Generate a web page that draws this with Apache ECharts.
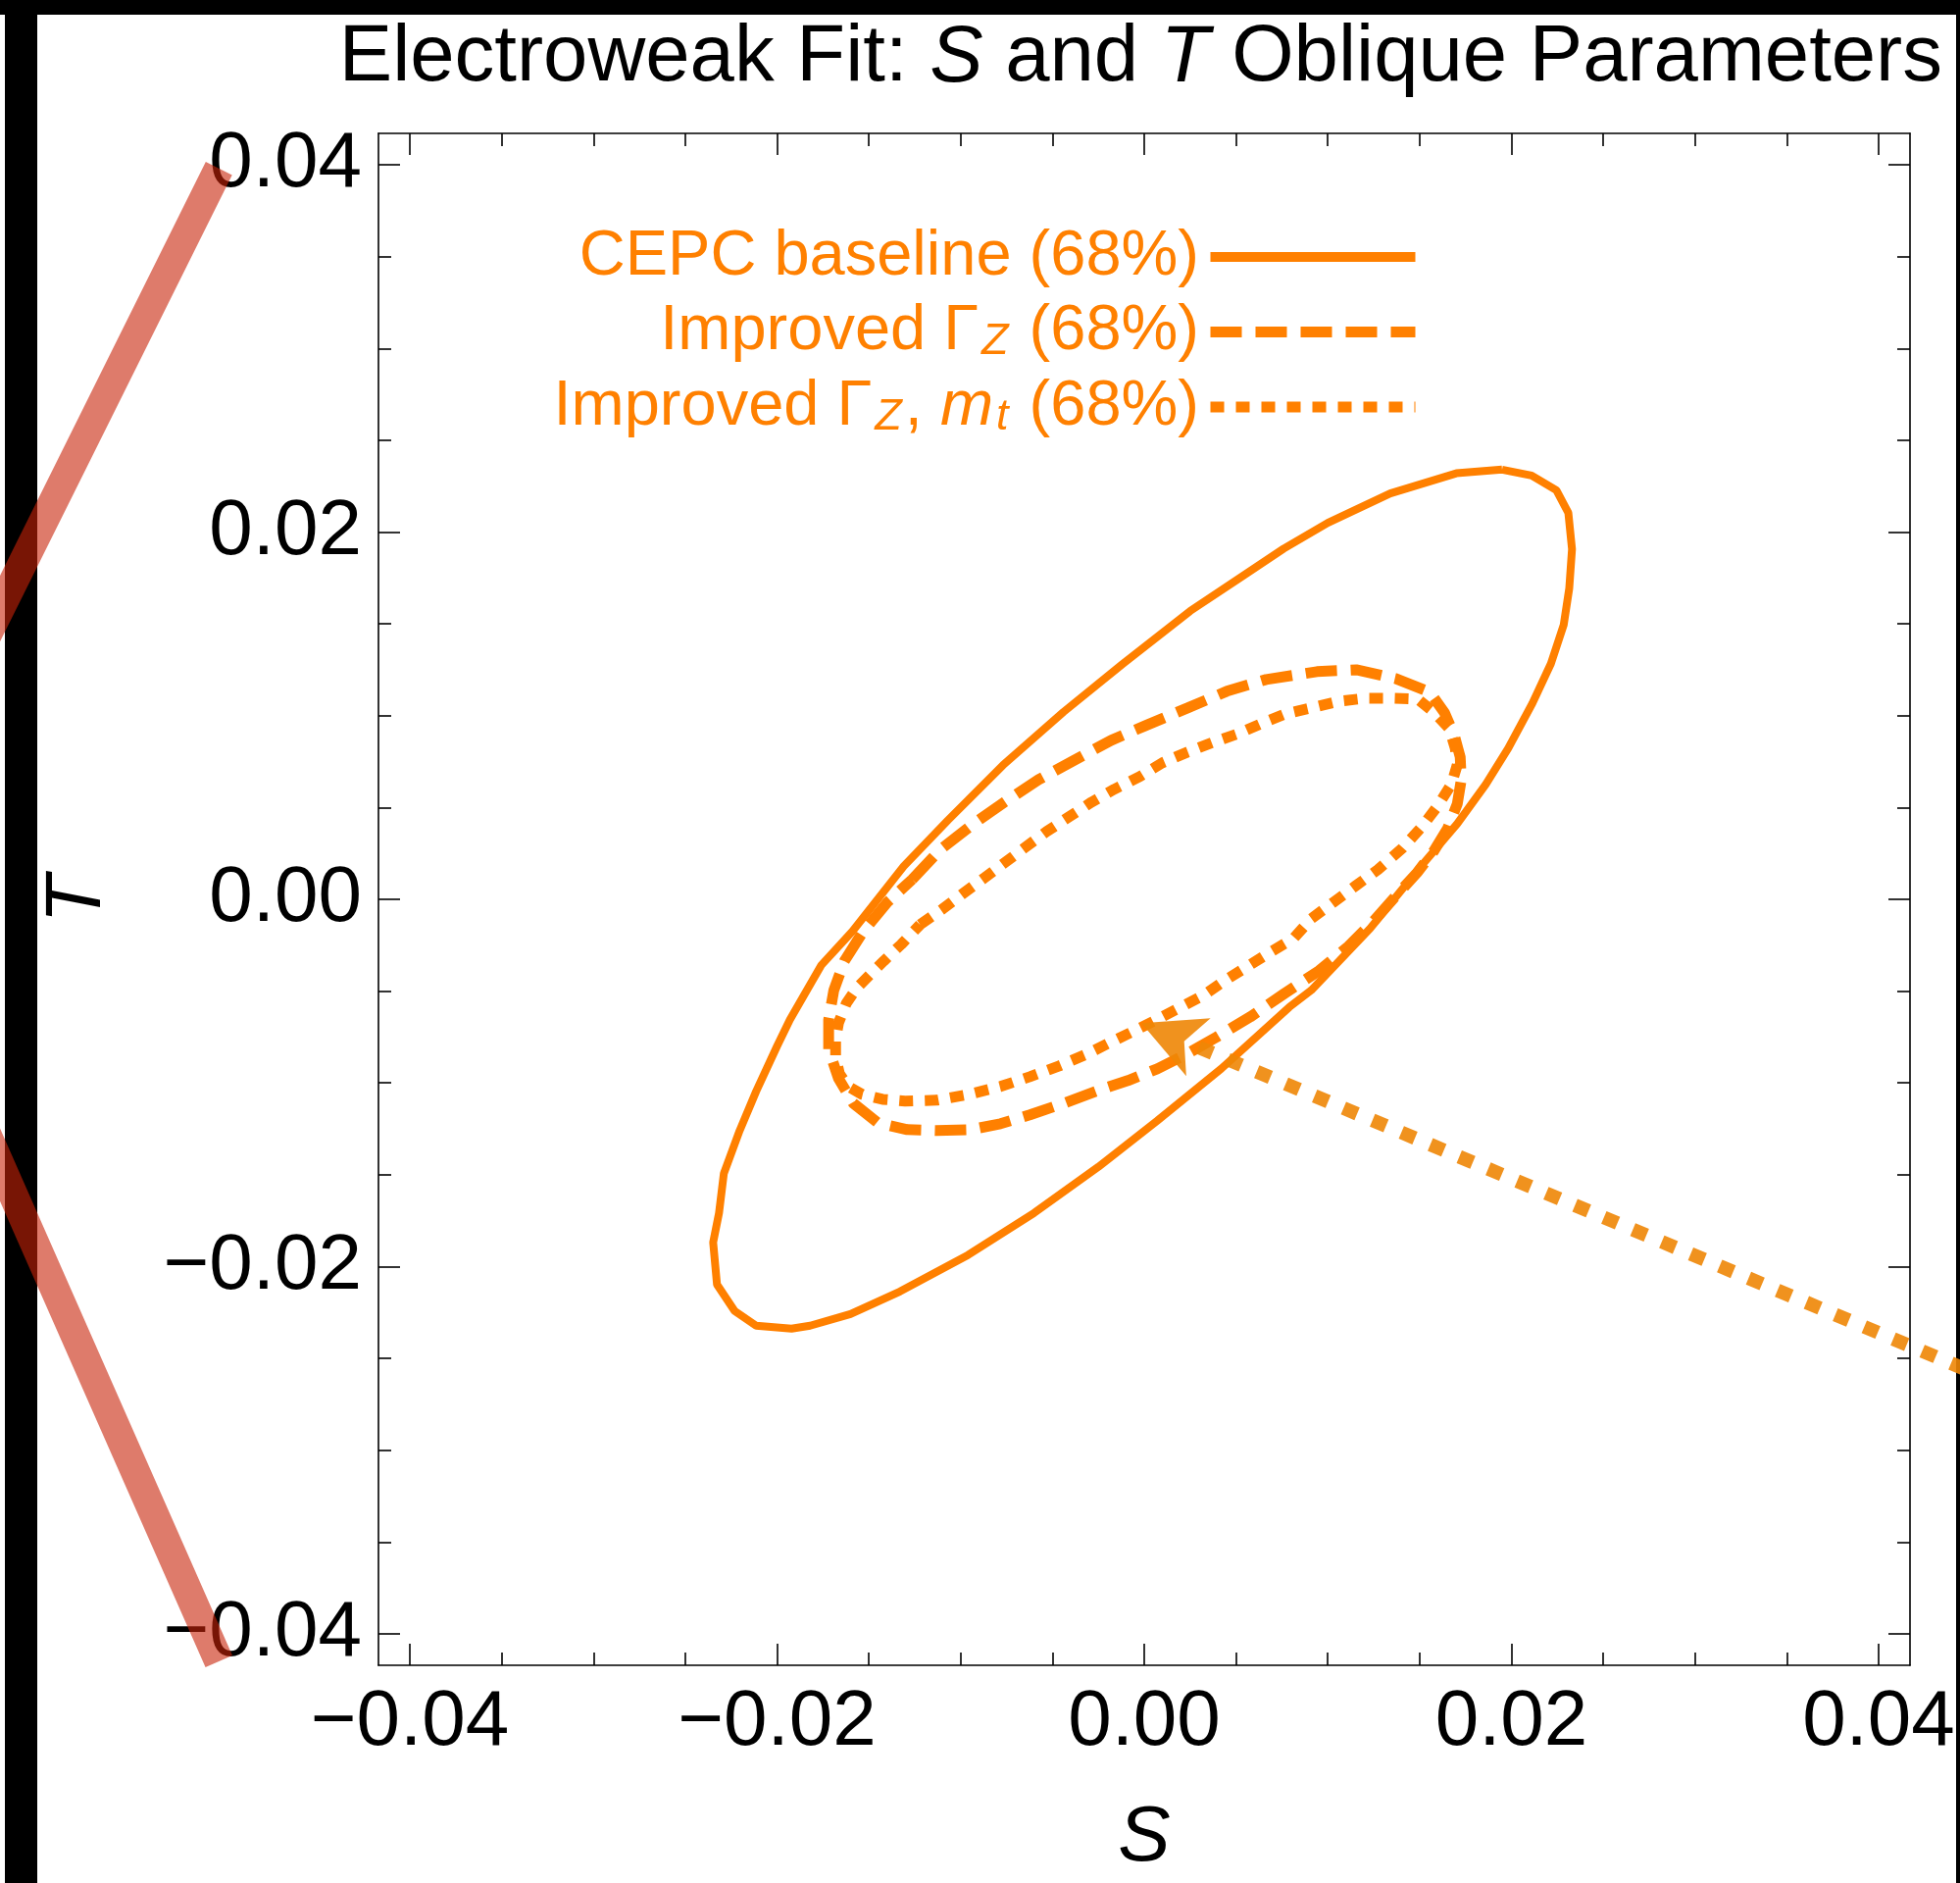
<!DOCTYPE html>
<html><head><meta charset="utf-8">
<script src="https://cdn.jsdelivr.net/npm/echarts@6/dist/echarts.min.js"></script>
<style>html,body{margin:0;padding:0;background:#fff}#c{width:1999px;height:1920px}</style>
</head><body><div id="c"></div>
<script>
const axisRange = [-0.04171, 0.04171];
const majorTicks = [-0.04, -0.02, 0, 0.02, 0.04];
const minorTicks = [-0.035, -0.03, -0.025, -0.015, -0.01, -0.005, 0.005, 0.01, 0.015, 0.025, 0.03, 0.035];
const seriesNames = ['CEPC baseline (68%)', 'Improved \u0393Z (68%)', 'Improved \u0393Z, mt (68%)'];

const baselineContour = [[0.01949,0.02340],[0.02110,0.02308],[0.02245,0.02228],[0.02310,0.02105],[0.02330,0.01907],[0.02315,0.01694],[0.02285,0.01496],[0.02215,0.01283],[0.02115,0.01069],[0.01983,0.00823],[0.01860,0.00626],[0.01705,0.00412],[0.01510,0.00183],[0.01230,-0.00159],[0.00910,-0.00495],[0.00790,-0.00587],[0.00420,-0.00922],[0.00070,-0.01206],[-0.00250,-0.01457],[-0.00600,-0.01708],[-0.00960,-0.01937],[-0.01330,-0.02135],[-0.01600,-0.02258],[-0.01820,-0.02322],[-0.01921,-0.02338],[-0.02114,-0.02322],[-0.02231,-0.02242],[-0.02327,-0.02098],[-0.02348,-0.01868],[-0.02316,-0.01708],[-0.02290,-0.01494],[-0.02204,-0.01260],[-0.02114,-0.01046],[-0.02000,-0.00800],[-0.01930,-0.00655],[-0.01760,-0.00360],[-0.01590,-0.00175],[-0.01310,0.00180],[-0.01070,0.00430],[-0.00770,0.00730],[-0.00440,0.01020],[-0.00120,0.01280],[0.00250,0.01570],[0.00520,0.01750],[0.00760,0.01910],[0.01000,0.02050],[0.01340,0.02210],[0.01700,0.02320],[0.01949,0.02340]];

const improvedGammaZContour = [[-0.01264,0.00108],[-0.01114,0.00268],[-0.00944,0.00401],[-0.00762,0.00529],[-0.00575,0.00652],[-0.00378,0.00759],[-0.00180,0.00866],[0.00007,0.00946],[0.00236,0.01042],[0.00450,0.01133],[0.00664,0.01197],[0.00941,0.01240],[0.01155,0.01250],[0.01369,0.01202],[0.01556,0.01128],[0.01636,0.01015],[0.01689,0.00893],[0.01721,0.00775],[0.01727,0.00652],[0.01705,0.00519],[0.01652,0.00385],[0.01577,0.00262],[0.01486,0.00145],[0.01379,0.00028],[0.01246,-0.00122],[0.01112,-0.00256],[0.00952,-0.00389],[0.00765,-0.00512],[0.00578,-0.00640],[0.00391,-0.00752],[0.00231,-0.00843],[0.00071,-0.00923],[-0.00089,-0.00987],[-0.00249,-0.01040],[-0.00436,-0.01110],[-0.00623,-0.01174],[-0.00783,-0.01222],[-0.00944,-0.01254],[-0.01131,-0.01259],[-0.01291,-0.01254],[-0.01451,-0.01217],[-0.01585,-0.01110],[-0.01665,-0.00976],[-0.01719,-0.00816],[-0.01719,-0.00656],[-0.01691,-0.00496],[-0.01633,-0.00336],[-0.01531,-0.00175],[-0.01398,-0.00015],[-0.01264,0.00108]];

const improvedGammaZmtContour = [[-0.01221,-0.00138],[-0.01099,-0.00053],[-0.00992,0.00028],[-0.00869,0.00118],[-0.00762,0.00198],[-0.00655,0.00278],[-0.00532,0.00369],[-0.00410,0.00449],[-0.00287,0.00529],[-0.00164,0.00599],[-0.00025,0.00668],[0.00098,0.00743],[0.00236,0.00802],[0.00375,0.00855],[0.00514,0.00903],[0.00637,0.00957],[0.00770,0.01010],[0.00909,0.01042],[0.01064,0.01079],[0.01203,0.01095],[0.01342,0.01095],[0.01491,0.01090],[0.01582,0.01015],[0.01662,0.00930],[0.01694,0.00823],[0.01705,0.00732],[0.01673,0.00626],[0.01598,0.00508],[0.01513,0.00396],[0.01406,0.00278],[0.01272,0.00161],[0.01155,0.00076],[0.01032,-0.00015],[0.00909,-0.00106],[0.00813,-0.00213],[0.00696,-0.00282],[0.00568,-0.00362],[0.00439,-0.00442],[0.00322,-0.00523],[0.00199,-0.00587],[0.00066,-0.00656],[-0.00062,-0.00720],[-0.00185,-0.00779],[-0.00313,-0.00843],[-0.00463,-0.00907],[-0.00623,-0.00966],[-0.00783,-0.01019],[-0.00954,-0.01062],[-0.01131,-0.01094],[-0.01302,-0.01099],[-0.01425,-0.01089],[-0.01537,-0.01062],[-0.01612,-0.01019],[-0.01660,-0.00950],[-0.01681,-0.00859],[-0.01681,-0.00763],[-0.01665,-0.00672],[-0.01622,-0.00565],[-0.01563,-0.00480],[-0.01489,-0.00405],[-0.01419,-0.00336],[-0.01323,-0.00245],[-0.01221,-0.00138]];

const guideLine = [[-0.0504, 0.0398], [-0.0694, 0.0016], [-0.0504, -0.0415]];
const arrowStart = [0.06, -0.032];
const arrowEnd = [0.0014, -0.0074];

const FONT = '"Liberation Sans", Arial, Helvetica, sans-serif';
const ORANGE = '#ff8000';
const ARROW_COLOR = 'rgba(238,134,5,0.9)';
const GUIDE_COLOR = 'rgba(200,35,8,0.6)';
const fmt = v => (Math.abs(v) < 1e-9 ? '0.00' : v.toFixed(2)).replace('-', '\u2212');

function axis(position, ticks, len, main) {
  const a = {
    type: 'value', position: position, min: axisRange[0], max: axisRange[1], gridIndex: 0,
    axisLine: { show: main !== null, onZero: false, lineStyle: { color: '#000', width: 1.6 } },
    axisTick: { show: true, inside: true, length: len, customValues: ticks, lineStyle: { color: '#000', width: 1.6 } },
    axisLabel: { show: false },
    splitLine: { show: false }, minorTick: { show: false }, minorSplitLine: { show: false }
  };
  if (main && main.labels) {
    a.axisLabel = { show: true, customValues: ticks, formatter: fmt, margin: main.margin,
      fontSize: 80, color: '#000', fontFamily: FONT };
    a.name = main.name; a.nameLocation = 'middle'; a.nameGap = main.nameGap;
    a.nameTextStyle = { fontSize: 80, fontStyle: 'italic', fontWeight: 'normal', color: '#000', fontFamily: FONT };
  }
  return a;
}

const legendRich = {
  a: { fontSize: 65, lineHeight: 65, color: ORANGE, fontFamily: FONT },
  i: { fontSize: 65, lineHeight: 65, color: ORANGE, fontFamily: FONT, fontStyle: 'italic' },
  s: { fontSize: 45, lineHeight: 27, color: ORANGE, fontFamily: FONT, fontStyle: 'italic', verticalAlign: 'bottom', padding: [0, 3, 0, 3] }
};
const legendText = {};
legendText[seriesNames[0]] = '{a|CEPC baseline (68%)}';
legendText[seriesNames[1]] = '{a|Improved \u0393}{s|Z}{a| (68%)}';
legendText[seriesNames[2]] = '{a|Improved \u0393}{s|Z}{a|, }{i|m}{s|t}{a| (68%)}';

function renderGuide(params, api) {
  if (params.dataIndex !== 0) return null;
  const pts = guideLine.map(p => api.coord(p));
  return { type: 'polyline', shape: { points: pts },
    style: { stroke: GUIDE_COLOR, lineWidth: 30, fill: null, lineCap: 'butt', lineJoin: 'miter' } };
}

function renderArrow(params, api) {
  if (params.dataIndex !== 0) return null;
  const e = api.coord(arrowEnd), s = api.coord(arrowStart);
  const dx = e[0] - s[0], dy = e[1] - s[1], L = Math.hypot(dx, dy);
  const ux = dx / L, uy = dy / L, nx = -uy, ny = ux;
  const hl = 63, hw = 32;
  const tip = [e[0] + ux * hl / 2, e[1] + uy * hl / 2];
  const c1 = [e[0] - ux * hl / 2 + nx * hw, e[1] - uy * hl / 2 + ny * hw];
  const c2 = [e[0] - ux * hl / 2 - nx * hw, e[1] - uy * hl / 2 - ny * hw];
  const notch = [e[0] - ux * hl / 4, e[1] - uy * hl / 4];
  const ls = [e[0] - ux * 32, e[1] - uy * 32];
  return { type: 'group', children: [
    { type: 'line', shape: { x1: ls[0], y1: ls[1], x2: s[0], y2: s[1] },
      style: { stroke: ARROW_COLOR, lineWidth: 14, lineDash: [15, 17], lineCap: 'butt', fill: null } },
    { type: 'polygon', shape: { points: [tip, c1, notch, c2] }, style: { fill: ARROW_COLOR, stroke: null } }
  ] };
}

const chart = echarts.init(document.getElementById('c'), null, { renderer: 'canvas' });
chart.setOption({
  animation: false,
  backgroundColor: '#ffffff',
  title: {
    text: '{n|Electroweak Fit: }{i|S}{n| and }{i|T}{n| Oblique Parameters}',
    right: 18, top: 19, padding: 0,
    textStyle: { fontWeight: 'normal', rich: {
      n: { fontSize: 81.5, lineHeight: 82, color: '#000', fontFamily: FONT, fontWeight: 'normal' },
      i: { fontSize: 81.5, lineHeight: 82, color: '#000', fontFamily: FONT, fontStyle: 'italic', fontWeight: 'normal' }
    } }
  },
  grid: { left: 386, top: 136, width: 1562, height: 1562, containLabel: false, outerBoundsMode: 'none' },
  xAxis: [
    axis('bottom', majorTicks, 22, { labels: true, margin: 19, name: 'S', nameGap: 137 }),
    axis('bottom', minorTicks, 13, null),
    axis('top', majorTicks, 22, {}),
    axis('top', minorTicks, 13, null)
  ],
  yAxis: [
    axis('left', majorTicks, 22, { labels: true, margin: 17, name: 'T', nameGap: 266 }),
    axis('left', minorTicks, 13, null),
    axis('right', majorTicks, 22, {}),
    axis('right', minorTicks, 13, null)
  ],
  legend: {
    orient: 'vertical', align: 'right', right: 550, top: 229.5, padding: 0,
    itemGap: 11.5, itemWidth: 209, itemHeight: 65, selectedMode: false,
    itemStyle: { opacity: 0, color: 'rgba(0,0,0,0)', borderWidth: 0 },
    data: [
      { name: seriesNames[0], lineStyle: { width: 10 } },
      { name: seriesNames[1], lineStyle: { width: 11 } },
      { name: seriesNames[2], lineStyle: { width: 11 } }
    ],
    formatter: n => legendText[n],
    textStyle: { color: ORANGE, fontSize: 65, lineHeight: 65, fontFamily: FONT, padding: [0, 6.5, 0, 0], rich: legendRich }
  },
  graphic: [
    { type: 'rect', z: 0, silent: true, shape: { x: 0, y: 0, width: 1999, height: 15 }, style: { fill: '#000' } },
    { type: 'rect', z: 0, silent: true, shape: { x: 5, y: 0, width: 33, height: 1920 }, style: { fill: '#000' } },
    { type: 'rect', z: 0, silent: true, shape: { x: 1995, y: 0, width: 4, height: 1920 }, style: { fill: '#000' } }
  ],
  series: [
    { name: seriesNames[0], type: 'line', xAxisIndex: 0, yAxisIndex: 0, data: baselineContour,
      symbol: 'none', showSymbol: false, smooth: false, silent: true,
      lineStyle: { color: ORANGE, width: 8, type: 'solid' }, itemStyle: { color: ORANGE } },
    { name: seriesNames[1], type: 'line', xAxisIndex: 0, yAxisIndex: 0, data: improvedGammaZContour,
      symbol: 'none', showSymbol: false, smooth: false, silent: true,
      lineStyle: { color: ORANGE, width: 11, type: [32, 14], cap: 'butt' }, itemStyle: { color: ORANGE } },
    { name: seriesNames[2], type: 'line', xAxisIndex: 0, yAxisIndex: 0, data: improvedGammaZmtContour,
      symbol: 'none', showSymbol: false, smooth: false, silent: true,
      lineStyle: { color: ORANGE, width: 11, type: [14, 12], cap: 'butt' }, itemStyle: { color: ORANGE } },
    { name: 'guide', type: 'custom', coordinateSystem: 'cartesian2d', xAxisIndex: 0, yAxisIndex: 0,
      clip: false, silent: true, z: 3, data: guideLine, encode: { x: 0, y: 1 }, renderItem: renderGuide },
    { name: 'arrow', type: 'custom', coordinateSystem: 'cartesian2d', xAxisIndex: 0, yAxisIndex: 0,
      clip: false, silent: true, z: 4, data: [arrowEnd, arrowStart], encode: { x: 0, y: 1 }, renderItem: renderArrow }
  ]
});
</script></body></html>
